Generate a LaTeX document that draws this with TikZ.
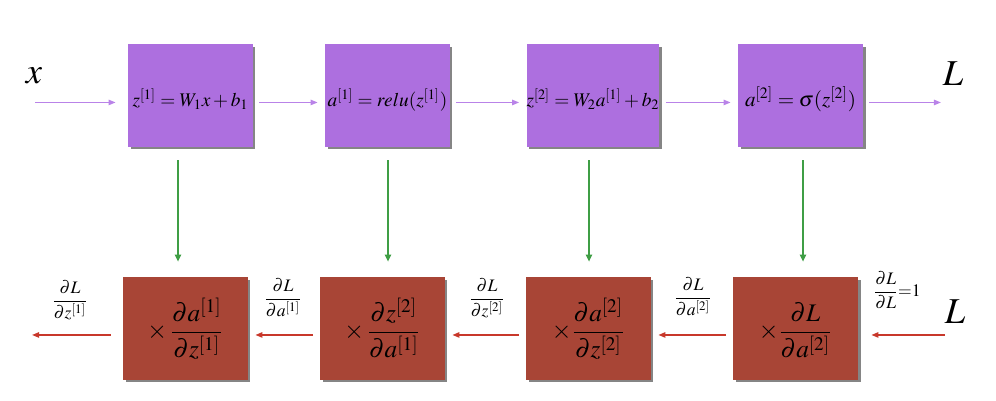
\documentclass[tikz,border=0pt]{standalone}
\usepackage{amsmath,amssymb}
\usepackage{mathptmx}
\usepackage{xcolor}
\usetikzlibrary{positioning,arrows.meta,shadows}
\definecolor{fwdfill}{HTML}{AD6FDF}
\definecolor{fwdline}{HTML}{B983E8}
\definecolor{bwdfill}{HTML}{A84536}
\definecolor{bwdline}{HTML}{C8382B}
\definecolor{gradline}{HTML}{3F9E45}
\begin{document}
\begin{tikzpicture}[
          x=0.02cm, y=0.02cm,
          boxshadow/.style={drop shadow={shadow xshift=0.05cm, shadow yshift=-0.05cm, fill=black!60, opacity=0.8}},
          fwdbox/.style={fill=fwdfill, boxshadow, minimum width=2.5cm, minimum height=2.06cm,
                         inner sep=0pt, font=\fontsize{11}{13}\selectfont, text height=0.53cm, text depth=0.1cm},
          bwdbox/.style={fill=bwdfill, boxshadow, minimum width=2.5cm, minimum height=2.06cm,
                         inner sep=0pt, font=\Large, text height=0.9cm, text depth=0.49cm},
          fwd/.style={draw=fwdline, line width=0.9pt, -{Triangle[length=4pt,width=3pt]},
                      shorten <=0.12cm, shorten >=0.14cm},
          bwd/.style={draw=bwdline, line width=0.9pt, -{Triangle[length=4pt,width=3pt]},
                      shorten <=0.13cm, shorten >=0.14cm},
          grad/.style={draw=gradline, line width=0.9pt, -{Triangle[length=4pt,width=3.5pt]},
                       shorten <=0.26cm, shorten >=0.3cm},
          bigl/.style={font=\huge},
          dlbl/.style={font=\normalsize}
      ]
        \useasboundingbox (0,0) rectangle (996,400);
        \node[fwdbox] (f1) at (190.5,304.5) {$z^{[1]}=W_1x+b_1$};
        \node[fwdbox] (f2) at (387.5,304.5) {$a^{[1]}=relu(z^{[1]})$};
        \node[fwdbox] (f3) at (593,304.5) {$z^{[2]}=W_2a^{[1]}+b_2$};
        \node[fwdbox] (f4) at (800.5,304.5) {\large$a^{[2]}=\sigma(z^{[2]})$};
        \node[bwdbox] (b1) at (185.5,71.5) {$\times\,\dfrac{\partial a^{[1]}}{\partial z^{[1]}}$};
        \node[bwdbox] (b2) at (382.5,71.5) {$\times\,\dfrac{\partial z^{[2]}}{\partial a^{[1]}}$};
        \node[bwdbox] (b3) at (588.5,71.5) {$\times\dfrac{\partial a^{[2]}}{\partial z^{[2]}}$};
        \node[bwdbox] (b4) at (795.5,71.5) {$\times\dfrac{\partial L}{\partial a^{[2]}}$};
        \node[bigl] (xlbl) at (34,324) {$x$};
        \node[bigl] (lout) at (953,326) {$L$};
        \node[bigl] (lin) at (955,88) {$L$};
        \coordinate (xin) at (35,298);
        \coordinate (fend) at (941,298);
        \coordinate (bstart) at (945,67);
        \coordinate (bend) at (32,67);
        \draw[fwd, shorten <=0pt, shorten >=0.24cm] (xin |- f1.mid west) -- (f1.mid west);
        \draw[fwd] (f1.mid east) -- (f2.mid west);
        \draw[fwd] (f2.mid east) -- (f3.mid west);
        \draw[fwd] (f3.mid east) -- (f4.mid west);
        \draw[fwd, shorten >=0pt] (f4.mid east) -- (fend |- f4.mid east);
        \draw[bwd, shorten <=0pt, shorten >=0.26cm] (bstart |- b4.mid east) -- (b4.mid east);
        \draw[bwd] (b4.mid west) -- (b3.mid east);
        \draw[bwd] (b3.mid west) -- (b2.mid east);
        \draw[bwd] (b2.mid west) -- (b1.mid east);
        \draw[bwd, shorten <=0.24cm, shorten >=0pt] (b1.mid west) -- (bend |- b1.mid west);
        \draw[grad] ([xshift=-0.25cm]f1.south) -- ([xshift=-0.25cm]f1.south |- b1.north);
        \draw[grad] ([xshift=0.01cm]f2.south) -- ([xshift=0.01cm]f2.south |- b2.north);
        \draw[grad] ([xshift=-0.08cm]f3.south) -- ([xshift=-0.08cm]f3.south |- b3.north);
        \draw[grad] ([xshift=0.05cm]f4.south) -- ([xshift=0.05cm]f4.south |- b4.north);
        \node[dlbl] (g1) at (70,100) {$\dfrac{\partial L}{\partial z^{[1]}}$};
        \node[dlbl] (g2) at (283,102) {$\dfrac{\partial L}{\partial a^{[1]}}$};
        \node[dlbl] (g3) at (487,102) {$\dfrac{\partial L}{\partial z^{[2]}}$};
        \node[dlbl] (g4) at (693,103) {$\dfrac{\partial L}{\partial a^{[2]}}$};
        \node[dlbl] (g5) at (897,110) {$\dfrac{\partial L}{\partial L}{=}1$};
      \end{tikzpicture}
\end{document}
